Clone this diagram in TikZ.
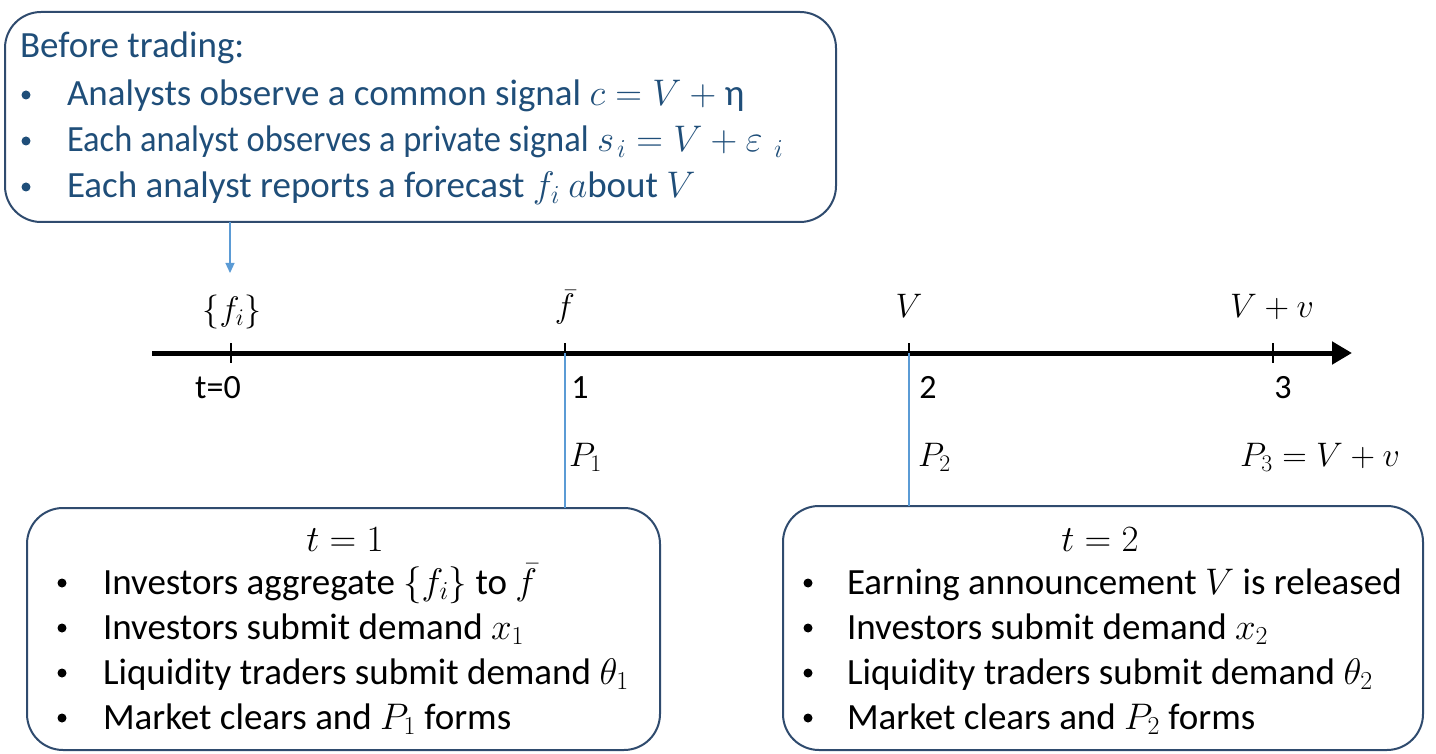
\RequirePackage{fix-cm}
\documentclass[tikz,border=0pt]{standalone}
\usepackage{graphicx}
\usepackage{fontspec}
\setmainfont{Carlito}
\usetikzlibrary{arrows.meta}
\definecolor{boxline}{HTML}{2F4B6E}
\definecolor{toptext}{HTML}{1F4E79}
\definecolor{conn}{HTML}{5B9BD5}
\begin{document}
\begin{tikzpicture}[x=1pt,y=-1pt,
  every node/.style={inner sep=0pt, outer sep=0pt},
  roundbox/.style={draw=boxline, line width=2pt, rounded corners=36pt, anchor=north west},
  toptxt/.style={font=\fontsize{37}{44}\selectfont, text=toptext, anchor=base west},
  txt/.style={font=\fontsize{37}{44}\selectfont, text=black, anchor=base west},
  lbl/.style={font=\fontsize{34}{40}\selectfont, text=black},
  topdot/.style={circle, fill=toptext, minimum size=9pt},
  dot/.style={circle, fill=black, minimum size=9pt},
  connline/.style={draw=conn, line width=1.2pt},
  axisline/.style={line width=5pt, -{Triangle[length=20pt,width=22pt]}},
  tickmark/.style={line width=1.5pt}]
\useasboundingbox (0,0) rectangle (1436,754);

% boxes
\node[roundbox, minimum width=831pt, minimum height=210pt] (before) at (5,12) {};
\node[roundbox, minimum width=633pt, minimum height=242pt] (box1) at (27,508) {};
\node[roundbox, minimum width=640pt, minimum height=244pt] (box2) at (783,506) {};

% top box text
\node[toptxt] (b0) at (20,58) {Before trading:};
\node[topdot] (b1d) at (26,95) {};
\node[toptxt] (b1) at (67,106) {Analysts observe a common signal $c=V+\mbox{η}$};
\node[topdot] (b2d) at (26,141) {};
\node[toptxt] (b2) at (67,152) {\scalebox{0.93}[1]{Each analyst observes a private signal} $s_{\mkern2mu i}=V+\varepsilon_{\mkern8mu i}$};
\node[topdot] (b3d) at (26,187) {};
\node[toptxt] (b3) at (67,198) {Each analyst reports a forecast $f_i\ a$bout $V$};

% timeline
\coordinate (axs) at (152,353);
\coordinate (axe) at (1352,353);
\draw[axisline] (axs) -- (axe);
\coordinate (t0) at (231,353);
\coordinate (t1) at (565,353);
\coordinate (t2) at (909,353);
\coordinate (t3) at (1273,353);
\foreach \t in {t0,t1,t2,t3}{\draw[tickmark] ([yshift=10pt]\t) -- ([yshift=-10pt]\t);}

% labels above
\node[lbl, anchor=base] (fi) at (232,320) {$\{f_i\}$};
\node[lbl, anchor=base] (fbar) at (565,318) {$\bar f$};
\node[lbl, anchor=base] (vlab) at (909,318) {$V$};
\node[lbl, anchor=base] (vv) at (1272,318) {$V+v$};

% labels below
\node[lbl, anchor=base] (n0) at (218,398) {t=0};
\node[lbl, anchor=base] (n1) at (580,398) {1};
\node[lbl, anchor=base] (n2) at (928,398) {2};
\node[lbl, anchor=base] (n3) at (1283,398) {3};
\node[lbl, anchor=base west] (p1) at (569,466) {$P_1$};
\node[lbl, anchor=base west] (p2) at (918,466) {$P_2$};
\node[lbl, anchor=base west] (p3) at (1240,466) {$P_3=V+v$};

% connectors
\coordinate (arrtip) at (230,273);
\draw[connline, -{Triangle[length=10pt,width=9pt]}] (arrtip |- before.south) -- (arrtip);
\draw[connline] (t1) -- (t1 |- box1.north);
\draw[connline] (t2) -- (t2 |- box2.north);

% box 1 text
\node[txt, anchor=base] (h1) at (345,551) {$t=1$};
\node[dot] (d11) at (62,583) {};
\node[txt] (l11) at (103,594) {Investors aggregate $\{f_i\}$ to $\bar f$};
\node[dot] (d12) at (62,628) {};
\node[txt] (l12) at (103,639) {Investors submit demand $x_1$};
\node[dot] (d13) at (62,673) {};
\node[txt] (l13) at (103,684) {Liquidity traders submit demand $\theta_1$};
\node[dot] (d14) at (62,718) {};
\node[txt] (l14) at (103,729) {Market clears and $P_1$ forms};

% box 2 text
\node[txt, anchor=base] (h2) at (1100,551) {$t=2$};
\node[dot] (d21) at (808,583) {};
\node[txt] (l21) at (847,594) {Earning announcement $V$ is released};
\node[dot] (d22) at (808,628) {};
\node[txt] (l22) at (847,639) {Investors submit demand $x_2$};
\node[dot] (d23) at (808,673) {};
\node[txt] (l23) at (847,684) {Liquidity traders submit demand $\theta_2$};
\node[dot] (d24) at (808,718) {};
\node[txt] (l24) at (847,729) {Market clears and $P_2$ forms};
\end{tikzpicture}
\end{document}
